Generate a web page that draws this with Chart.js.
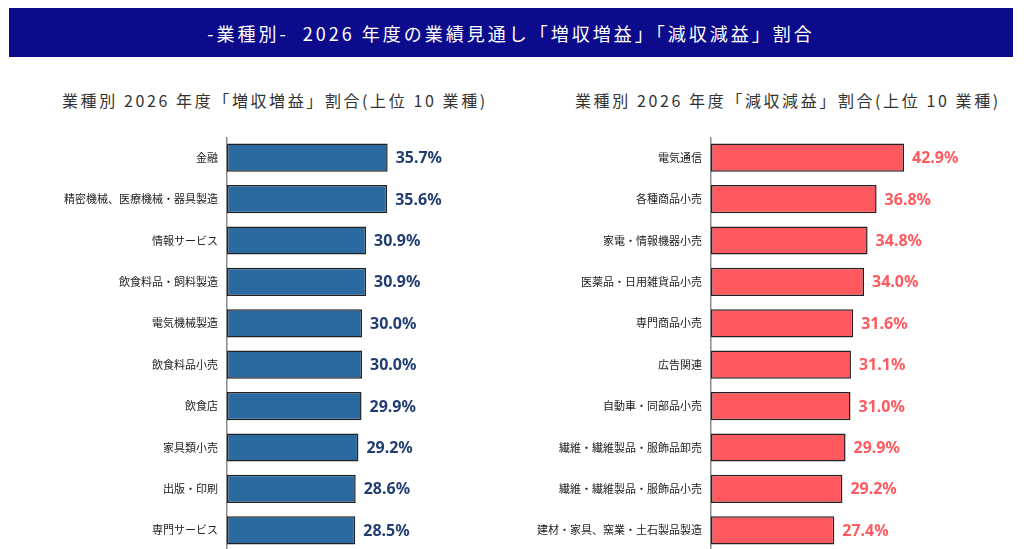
<!DOCTYPE html>
<html lang="ja">
<head>
<meta charset="utf-8">
<script src="https://cdn.jsdelivr.net/npm/chart.js@4"></script>
<style>
  html, body { margin: 0; padding: 0; background: #fff; width: 1024px; height: 549px; overflow: hidden; }
  body { position: relative; font-family: "Noto Sans CJK JP", sans-serif; }
  #banner {
    position: absolute; left: 9px; top: 8px; width: 1004px; height: 49px;
    background: #0b0b8c; color: #fff; font-size: 18px; letter-spacing: 3px;
    display: flex; align-items: center; justify-content: center;
  }
  .sub { position: absolute; top: 88px; font-size: 16px; color: #333; letter-spacing: 2.6px; white-space: nowrap; }
  #subL { left: 62px; }
  #subR { left: 575px; }
  canvas { position: absolute; }
  #upChart { left: 27px; top: 137px; }
  #downChart { left: 511px; top: 137px; }
</style>
</head>
<body>
<div id="banner">-業種別-&nbsp; 2026 年度の業績見通し「増収増益」「減収減益」割合</div>
<div class="sub" id="subL">業種別 2026 年度「増収増益」割合(上位 10 業種)</div>
<div class="sub" id="subR">業種別 2026 年度「減収減益」割合(上位 10 業種)</div>
<canvas id="upChart" width="480" height="414"></canvas>
<canvas id="downChart" width="480" height="414"></canvas>
<script>
(function() {

    const upLabels = ['金融', '精密機械、医療機械・器具製造', '情報サービス', '飲食料品・飼料製造', '電気機械製造', '飲食料品小売', '飲食店', '家具類小売', '出版・印刷', '専門サービス'];
    const upValues = [35.7, 35.6, 30.9, 30.9, 30.0, 30.0, 29.9, 29.2, 28.6, 28.5];
    const downLabels = ['電気通信', '各種商品小売', '家電・情報機器小売', '医薬品・日用雑貨品小売', '専門商品小売', '広告関連', '自動車・同部品小売', '繊維・繊維製品・服飾品卸売', '繊維・繊維製品・服飾品小売', '建材・家具、窯業・土石製品製造'];
    const downValues = [42.9, 36.8, 34.8, 34.0, 31.6, 31.1, 31.0, 29.9, 29.2, 27.4];


    const valueLabels = {
        id: 'valueLabels',
        afterDatasetsDraw(chart, args, opts) {
            const ctx = chart.ctx;
            const meta = chart.getDatasetMeta(0);
            const data = chart.data.datasets[0].data;
            ctx.save();
            ctx.font = 'bold 16px "Noto Sans", sans-serif';
            ctx.fillStyle = opts.color;
            ctx.textAlign = 'left';
            ctx.textBaseline = 'middle';
            meta.data.forEach((bar, i) => {
                ctx.fillText(data[i].toFixed(1) + '%', bar.x + 8, bar.y + 1);
            });
            ctx.restore();
        }
    };


    function makeChart(id, labels, values, barColor, textColor) {
        return new Chart(document.getElementById(id), {
            type: 'bar',
            data: {
                labels: labels,
                datasets: [{
                    data: values,
                    backgroundColor: barColor,
                    borderColor: '#222',
                    borderWidth: 1.5,
                    borderSkipped: false,
                    barPercentage: 0.68,
                    categoryPercentage: 1
                }]
            },
            options: {
                indexAxis: 'y',
                responsive: false,
                animation: false,
                layout: { padding: { right: 55, top: 0, bottom: 0, left: 0 } },
                plugins: {
                    legend: { display: false },
                    tooltip: { enabled: false },
                    valueLabels: { color: textColor }
                },
                scales: {
                    x: { display: false, min: 0, max: 50 },
                    y: {
                        // fixed label column, no extra top/bottom padding
                        afterFit: (axis) => {
                            axis.width = 200;
                            axis.paddingTop = 0;
                            axis.paddingBottom = 0;
                        },
                        grid: { display: false, drawTicks: false },
                        border: { display: true, color: '#8a8a8a', width: 1.5 },
                        ticks: {
                            padding: 9,
                            color: '#222',
                            font: { family: '"Noto Sans CJK JP", sans-serif', size: 11 }
                        }
                    }
                }
            },
            plugins: [valueLabels]
        });
    }

    makeChart('upChart', upLabels, upValues, '#2b6aa0', '#213d72');
    makeChart('downChart', downLabels, downValues, '#ff585f', '#ff5a5f');

})();
</script>
</body>
</html>
